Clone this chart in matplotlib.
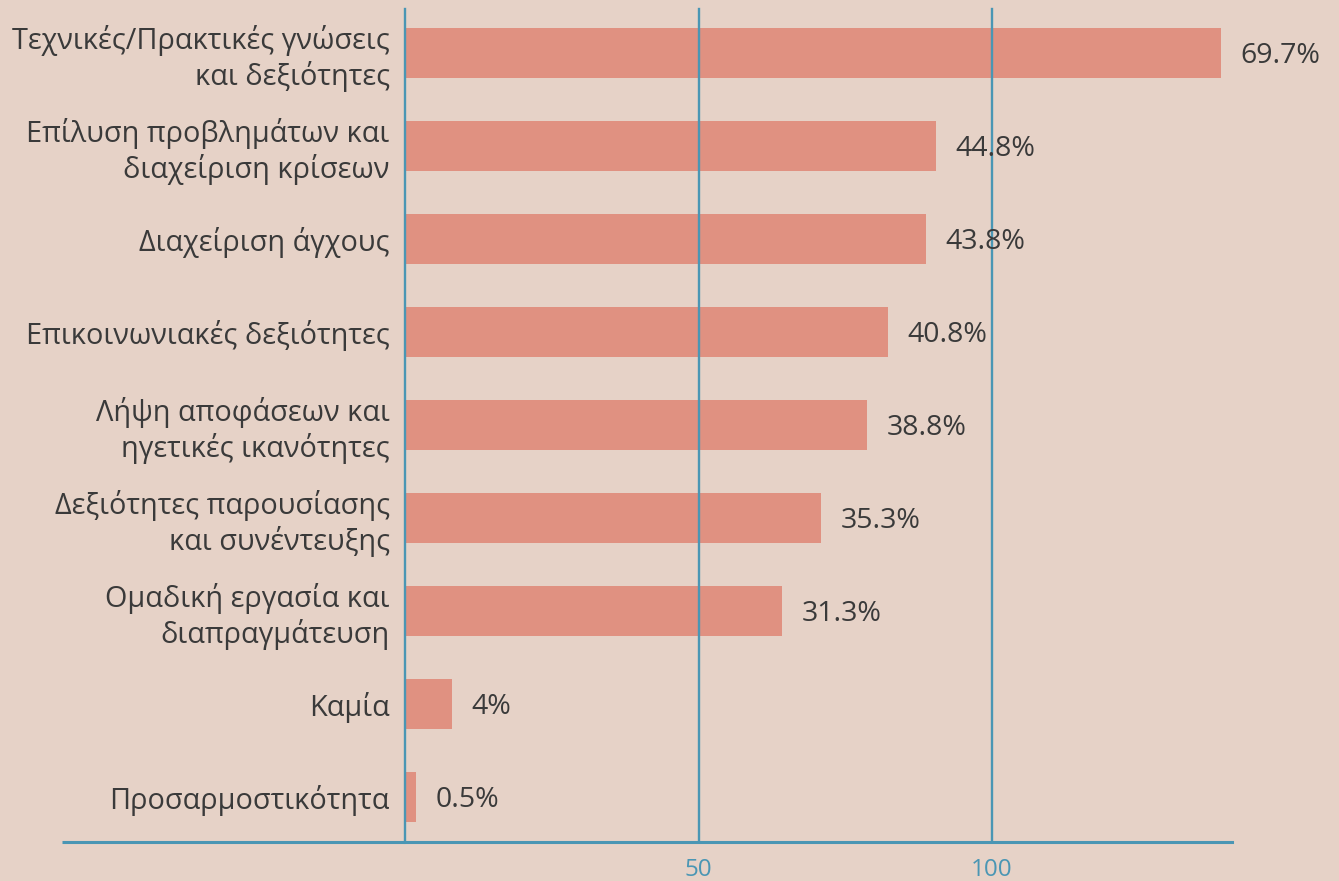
import matplotlib
matplotlib.use("Agg")
import matplotlib.pyplot as plt

categories = [
    "Τεχνικές/Πρακτικές γνώσεις\nκαι δεξιότητες",
    "Επίλυση προβλημάτων και\nδιαχείριση κρίσεων",
    "Διαχείριση άγχους",
    "Επικοινωνιακές δεξιότητες",
    "Λήψη αποφάσεων και\nηγετικές ικανότητες",
    "Δεξιότητες παρουσίασης\nκαι συνέντευξης",
    "Ομαδική εργασία και\nδιαπραγμάτευση",
    "Καμία",
    "Προσαρμοστικότητα",
]
counts = [139, 90.5, 88.8, 82.3, 78.7, 70.9, 64.3, 8.0, 1.9]
value_labels = ["69.7%", "44.8%", "43.8%", "40.8%", "38.8%", "35.3%", "31.3%", "4%", "0.5%"]
x_ticks = [50, 100]
x_tick_labels = ["50", "100"]

BG = "#E6D2C7"
BAR = "#E09181"
TEAL = "#4A96B4"
TEXT = "#3A3A3A"

plt.rcParams['font.family'] = ['Open Sans', 'DejaVu Sans']

fig = plt.figure(figsize=(13.39, 8.81), dpi=100)
fig.patch.set_facecolor(BG)
ax = fig.add_axes([405/1339, 1-841.5/881, (1232-405)/1339, (841.5-9)/881])
ax.set_facecolor(BG)

ypos = list(range(len(categories)))
ax.barh(ypos, counts, height=0.54, color=BAR, zorder=1)

ax.set_xlim(0, 827/5.87)
ax.set_ylim(len(categories) - 1 + 0.48, -0.47)

for y, v, lab in zip(ypos, counts, value_labels):
    ax.annotate(lab, (v, y), xytext=(14, 0), textcoords="offset points",
                ha="left", va="center_baseline", fontsize=20.5, color=TEXT, zorder=3)

# gridlines (including the zero line)
for xv in [0] + x_ticks:
    ax.axvline(xv, color=TEAL, lw=1.7, zorder=2, clip_on=False)

for s in ["top", "right", "left"]:
    ax.spines[s].set_visible(False)
ax.spines["bottom"].set_color(TEAL)
ax.spines["bottom"].set_linewidth(2.2)
# extend the bottom axis line leftwards under the labels
ax.plot([-(405-62)/827, 0], [0, 0], transform=ax.transAxes, color=TEAL,
        lw=2.2, clip_on=False, solid_capstyle="butt")

ax.set_xticks(x_ticks)
ax.set_xticklabels(x_tick_labels, fontsize=17.5, color=TEAL)
ax.tick_params(axis="x", length=0, pad=12)
ax.set_yticks(ypos)
ax.set_yticklabels(categories, fontsize=20.8, color=TEXT, linespacing=1.2)
ax.tick_params(axis="y", length=0, pad=11)

fig.savefig("out.png", dpi=100, facecolor=BG)
